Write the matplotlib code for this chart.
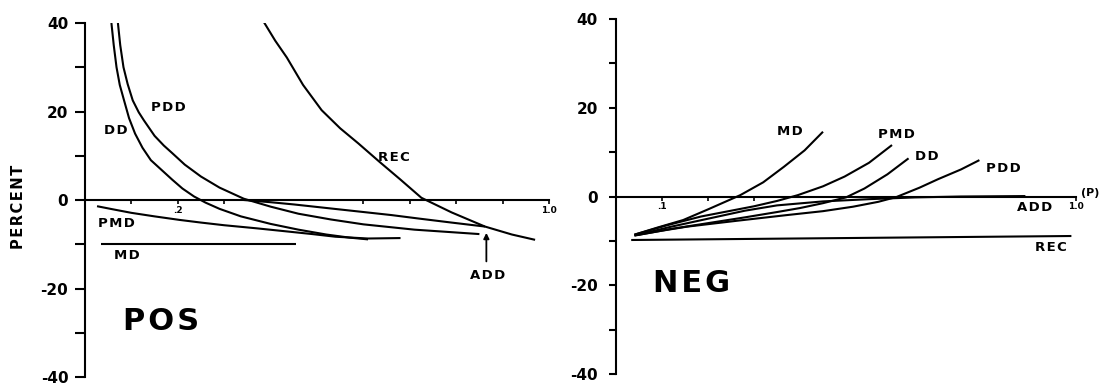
import matplotlib.pyplot as plt

# ── Data ─────────────────────────────────────────────────────────────────────

# POS panel
pos_dd_x  = [0.057, 0.062, 0.068, 0.075, 0.084, 0.095, 0.108, 0.124, 0.142, 0.165,
             0.188, 0.21, 0.235, 0.26, 0.29, 0.336, 0.40, 0.46, 0.52, 0.57, 0.61]
pos_dd_y  = [40, 35, 30, 26, 22.6, 18.5, 15, 11.8, 9, 6.8,
             4.6, 2.6, 0.8, -0.6, -2.0, -3.7, -5.4, -6.7, -7.8, -8.5, -8.9]
pos_pdd_x = [0.071, 0.076, 0.083, 0.092, 0.103, 0.116, 0.127, 0.15, 0.17, 0.188,
             0.215, 0.25, 0.29, 0.342, 0.40, 0.46, 0.53, 0.60, 0.71, 0.85]
pos_pdd_y = [40, 35, 30, 26.2, 22.5, 19.8, 18, 14.5, 12.3, 10.6,
             8.0, 5.3, 2.8, 0.3, -1.5, -3.1, -4.4, -5.5, -6.7, -7.7]
pos_rec_x = [0.385, 0.41, 0.435, 0.47, 0.51, 0.55, 0.589, 0.635, 0.68, 0.725,
             0.79, 0.862, 0.92, 0.97]
pos_rec_y = [40.3, 36, 32.2, 26, 20.3, 16.2, 12.8, 8.6, 4.6, 0.5,
             -2.8, -6.0, -7.8, -9.0]
pos_add_x = [0.342, 0.40, 0.45, 0.52, 0.59, 0.66, 0.72, 0.79, 0.862]
pos_add_y = [0, -0.5, -1.0, -1.8, -2.6, -3.4, -4.2, -5.1, -6.0]
pos_pmd_x = [0.026, 0.06, 0.1, 0.15, 0.204, 0.25, 0.3, 0.37, 0.435, 0.49, 0.54, 0.61, 0.68]
pos_pmd_y = [-1.4, -2.1, -2.9, -3.7, -4.5, -5.1, -5.7, -6.4, -7.1, -7.7, -8.3, -8.7, -8.6]
pos_md_x  = [0.034, 0.455]
pos_md_y  = [-10, -10]

# NEG panel
neg_md_x  = [0.04, 0.09, 0.146, 0.2, 0.27, 0.32, 0.365, 0.41, 0.45]
neg_md_y  = [-8.6, -7.0, -5.3, -2.9, 0.3, 3.2, 6.7, 10.4, 14.6]
neg_pmd_x = [0.04, 0.11, 0.185, 0.25, 0.30, 0.35, 0.395, 0.45, 0.497, 0.55, 0.60]
neg_pmd_y = [-8.6, -6.5, -4.5, -3.2, -2.2, -1.0, 0.3, 2.3, 4.5, 7.6, 11.6]
neg_dd_x  = [0.04, 0.12, 0.2, 0.28, 0.35, 0.40, 0.45, 0.50, 0.54, 0.59, 0.636]
neg_dd_y  = [-8.8, -7.3, -6.0, -4.7, -3.5, -2.6, -1.5, -0.2, 1.8, 5.0, 8.6]
neg_pdd_x = [0.045, 0.1, 0.154, 0.26, 0.37, 0.45, 0.515, 0.57, 0.61, 0.66, 0.70, 0.75, 0.79]
neg_pdd_y = [-8.7, -7.7, -6.8, -5.5, -4.2, -3.3, -2.3, -1.2, -0.1, 2.0, 3.9, 6.1, 8.2]
neg_add_x = [0.04, 0.12, 0.2, 0.28, 0.35, 0.45, 0.55, 0.65, 0.75, 0.89]
neg_add_y = [-8.8, -6.8, -5.0, -3.2, -2.0, -1.1, -0.6, -0.2, 0.0, 0.1]
neg_rec_x = [0.033, 0.99]
neg_rec_y = [-9.8, -8.9]

y_ticks = [-40, -20, 0, 20, 40]
y_minor = [-30, -10, 10, 30]
y_labels = ['-40', '-20', '0', '20', '40']

pos_xticks = [0.1, 0.2, 0.3, 0.6, 0.7, 0.8, 0.9, 1.0]
pos_xlabels = ['', '.2', '', '', '', '', '', '1.0']
neg_xticks = [0.1, 0.2, 0.3, 1.0]
neg_xlabels = ['.1', '', '', '1.0']

# ── Figure ───────────────────────────────────────────────────────────────────

fig = plt.figure(figsize=(11.02, 3.84), dpi=100, facecolor='white')
ax1 = fig.add_axes([0.0771, 0.0182, 0.4211, 0.9219])
ax2 = fig.add_axes([0.5590, 0.0260, 0.4174, 0.9245])

LW = 1.5
HS = '\u200a'  # hair space, for the wide lettering of the original


def spaced(s):
    return HS.join(s)


def style_axis(ax, xticks, xlabels, ytick_len, ypad):
    ax.set_xlim(0, 1.0)
    ax.set_ylim(-40, 40)
    ax.spines[['top', 'right']].set_visible(False)
    ax.spines['bottom'].set_position(('data', 0))
    ax.spines['left'].set_linewidth(LW)
    ax.spines['bottom'].set_linewidth(LW)
    ax.set_yticks(y_ticks)
    ax.set_yticks(y_minor, minor=True)
    ax.set_yticklabels(y_labels, fontsize=11, fontweight='bold')
    ax.tick_params(axis='y', which='both', direction='out', length=ytick_len,
                   width=LW, pad=ypad)
    ax.set_xticks(xticks)
    ax.set_xticklabels(xlabels, fontsize=6.5, fontweight='bold')
    ax.tick_params(axis='x', direction='out', length=3, width=1.2, pad=1)
    ax.patch.set_alpha(0)


style_axis(ax1, pos_xticks, pos_xlabels, 7, 5)
style_axis(ax2, neg_xticks, neg_xlabels, 5, 8)

# POS curves
for xs, ys in [(pos_dd_x, pos_dd_y), (pos_pdd_x, pos_pdd_y), (pos_rec_x, pos_rec_y),
               (pos_add_x, pos_add_y), (pos_pmd_x, pos_pmd_y), (pos_md_x, pos_md_y)]:
    ax1.plot(xs, ys, color='black', lw=LW, solid_capstyle='butt',
             solid_joinstyle='round')

lab = dict(fontsize=9.5, fontweight='bold', ha='center', va='center')
ax1.text(0.18, 21, spaced('PDD'), **lab)
ax1.text(0.067, 15.6, spaced('DD'), **lab)
ax1.text(0.665, 9.7, spaced('REC'), **lab)
ax1.text(0.067, -5.2, spaced('PMD'), **lab)
ax1.text(0.09, -12.6, spaced('MD'), **lab)
ax1.text(0.867, -17, spaced('ADD'), **lab)
ax1.annotate('', xy=(0.865, -6.8), xytext=(0.865, -14.5),
             arrowprops=dict(arrowstyle='-|>', color='black', lw=1.3,
                             mutation_scale=8))
ax1.text(0.165, -27.5, spaced('POS'), fontsize=22, fontweight='bold',
         ha='center', va='center')

# NEG curves
for xs, ys in [(neg_md_x, neg_md_y), (neg_pmd_x, neg_pmd_y), (neg_dd_x, neg_dd_y),
               (neg_pdd_x, neg_pdd_y), (neg_add_x, neg_add_y), (neg_rec_x, neg_rec_y)]:
    ax2.plot(xs, ys, color='black', lw=LW, solid_capstyle='butt',
             solid_joinstyle='round')

ax2.text(0.378, 14.6, spaced('MD'), **lab)
ax2.text(0.61, 13.9, spaced('PMD'), **lab)
ax2.text(0.676, 9, spaced('DD'), **lab)
ax2.text(0.843, 6.4, spaced('PDD'), **lab)
ax2.text(0.91, -2.4, spaced('ADD'), **lab)
ax2.text(0.945, -11.6, spaced('REC'), **lab)
ax2.text(1.01, 0.8, '(P)', fontsize=8, fontweight='bold', ha='left',
         va='center', clip_on=False)
ax2.text(0.165, -19.5, spaced('NEG'), fontsize=22, fontweight='bold',
         ha='center', va='center')

fig.text(0.017, 0.46, spaced('PERCENT'), rotation=90, fontsize=10.5,
         fontweight='bold', ha='center', va='center')

fig.savefig('out.png', dpi=100, facecolor='white')
